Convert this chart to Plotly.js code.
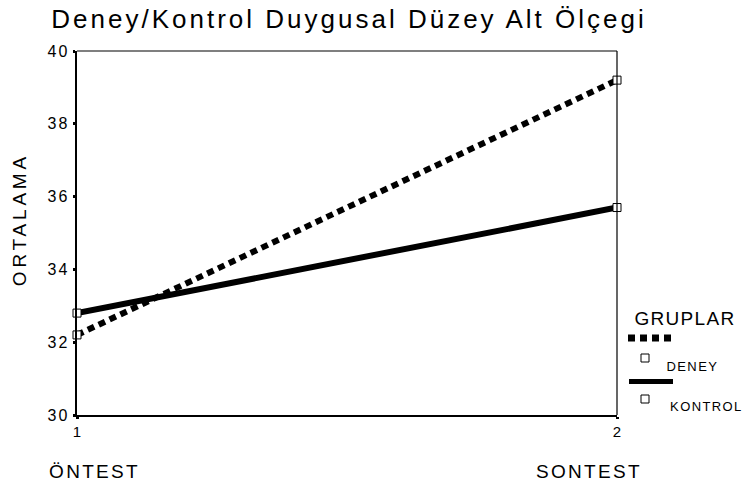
<!DOCTYPE html>
<html>
<head>
<meta charset="utf-8">
<script src="https://cdn.plot.ly/plotly-3.0.1.min.js"></script>
<style>
  html, body { margin: 0; padding: 0; background: #fff; }
  #chart { width: 746px; height: 488px; }
  .gtitle { letter-spacing: 3px; }
  .ytick text { letter-spacing: 2px; }
  g.annotation[data-index="0"] text { letter-spacing: 3.8px; }
  g.annotation[data-index="1"] text, g.annotation[data-index="2"] text { letter-spacing: 2.3px; }
  g.annotation[data-index="3"] text { letter-spacing: 1.3px; }
  g.annotation[data-index="4"] text, g.annotation[data-index="5"] text { letter-spacing: 1.4px; }
</style>
</head>
<body>
<div id="chart"></div>
<script>
// ---- data ----
const phases = [1, 2];
const phaseLabels = ['ÖNTEST', 'SONTEST'];
const groupNames = ['DENEY', 'KONTROL'];
const deney = [32.2, 39.2];
const kontrol = [32.8, 35.7];
const yTicks = [30, 32, 34, 36, 38, 40];
const xTicks = [1, 2];
const chartTitle = 'Deney/Kontrol Duygusal Düzey Alt Ölçegi';
const yTitle = 'ORTALAMA';
const legendTitle = 'GRUPLAR';

// ---- layout helpers ----
const W = 746, H = 488;
const M = { l: 77, r: 129, t: 51, b: 73 };
const PW = W - M.l - M.r, PH = H - M.t - M.b;
const px = x => (x - M.l) / PW;
const py = y => (H - M.b - y) / PH;
const FONT = 'Liberation Sans, Arial, Helvetica, sans-serif';

const markerStyle = { symbol: 'square', size: 8, color: '#ffffff', line: { color: '#000', width: 1 } };

const traces = [
  { x: phases, y: deney, name: groupNames[0], mode: 'lines+markers', cliponaxis: false,
    line: { color: '#000', width: 6, dash: '7px,5px' }, marker: markerStyle },
  { x: phases, y: kontrol, name: groupNames[1], mode: 'lines+markers', cliponaxis: false,
    line: { color: '#000', width: 6 }, marker: markerStyle }
];

const annotations = [
  { text: yTitle, xref: 'paper', yref: 'paper', x: px(19), y: py(220), textangle: -90,
    showarrow: false, xanchor: 'center', yanchor: 'middle', font: { family: FONT, size: 19, color: '#000' } },
  { text: phaseLabels[0], xref: 'paper', yref: 'paper', x: px(94), y: py(472),
    showarrow: false, xanchor: 'center', yanchor: 'middle', font: { family: FONT, size: 19, color: '#000' } },
  { text: phaseLabels[1], xref: 'paper', yref: 'paper', x: px(589), y: py(472),
    showarrow: false, xanchor: 'center', yanchor: 'middle', font: { family: FONT, size: 19, color: '#000' } },
  { text: legendTitle, xref: 'paper', yref: 'paper', x: px(685), y: py(318),
    showarrow: false, xanchor: 'center', yanchor: 'middle', font: { family: FONT, size: 19, color: '#000' } },
  { text: groupNames[0], xref: 'paper', yref: 'paper', x: px(692), y: py(366),
    showarrow: false, xanchor: 'center', yanchor: 'middle', font: { family: FONT, size: 13, color: '#000' } },
  { text: groupNames[1], xref: 'paper', yref: 'paper', x: px(706), y: py(406),
    showarrow: false, xanchor: 'center', yanchor: 'middle', font: { family: FONT, size: 13, color: '#000' } }
];

const shapes = [
  // frame: top (gray) and right (black)
  { type: 'line', xref: 'paper', yref: 'paper', x0: 0, x1: 1, y0: 1, y1: 1, line: { color: '#555', width: 1.5 } },
  { type: 'line', xref: 'paper', yref: 'paper', x0: 1, x1: 1, y0: 0, y1: 1, line: { color: '#000', width: 1.2 } },
  // legend keys
  { type: 'line', xref: 'paper', yref: 'paper', x0: px(628), x1: px(674), y0: py(338), y1: py(338),
    line: { color: '#000', width: 7, dash: '7px,5px' } },
  { type: 'rect', xref: 'paper', yref: 'paper', x0: px(641), x1: px(649), y0: py(362), y1: py(354),
    line: { color: '#000', width: 1 }, fillcolor: '#fff' },
  { type: 'line', xref: 'paper', yref: 'paper', x0: px(629), x1: px(673), y0: py(381.5), y1: py(381.5),
    line: { color: '#000', width: 5 } },
  { type: 'rect', xref: 'paper', yref: 'paper', x0: px(641), x1: px(649), y0: py(403), y1: py(395),
    line: { color: '#000', width: 1 }, fillcolor: '#fff' }
];

const layout = {
  width: W, height: H,
  margin: M,
  paper_bgcolor: '#fff', plot_bgcolor: '#fff',
  showlegend: false,
  font: { family: FONT, color: '#000' },
  title: { text: chartTitle, x: 349 / W, xanchor: 'center', xref: 'container',
    y: 1 - 19 / H, yanchor: 'middle', yref: 'container',
    font: { family: FONT, size: 26, color: '#000' } },
  xaxis: { range: [1, 2], tickvals: xTicks, ticktext: xTicks.map(String),
    showgrid: false, zeroline: false, showline: true, linecolor: '#000', linewidth: 2,
    ticks: 'outside', ticklen: 2, tickwidth: 3, tickcolor: '#000',
    tickfont: { family: FONT, size: 15, color: '#000' } },
  yaxis: { range: [30, 40], tickvals: yTicks, ticktext: yTicks.map(String),
    showgrid: false, zeroline: false, showline: true, linecolor: '#000', linewidth: 2.5,
    ticks: 'outside', ticklen: 2, tickwidth: 3, tickcolor: '#000',
    tickfont: { family: FONT, size: 16, color: '#000' } },
  annotations: annotations,
  shapes: shapes
};

Plotly.newPlot('chart', traces, layout, { displayModeBar: false, staticPlot: true });
</script>
</body>
</html>
